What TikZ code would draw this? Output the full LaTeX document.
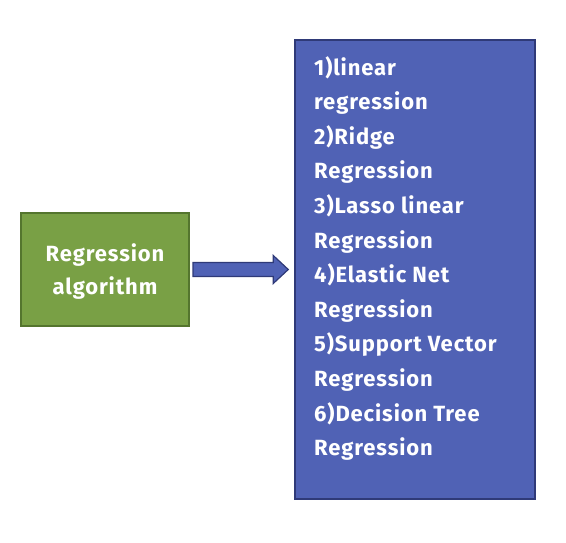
\documentclass[tikz,border=0pt]{standalone}
\usepackage{fontspec}
\setmainfont{Fira Sans}[LetterSpace=4]
\usetikzlibrary{calc}

\definecolor{algfill}{RGB}{121,160,69}
\definecolor{algedge}{RGB}{84,117,46}
\definecolor{lstfill}{RGB}{80,98,181}
\definecolor{lstedge}{RGB}{47,58,120}

\begin{document}
\begin{tikzpicture}[x=1pt,y=1pt,
    algbox/.style={draw=algedge,fill=algfill,line width=2pt,minimum width=168pt,minimum height=113pt,inner sep=0pt},
    lstbox/.style={draw=lstedge,fill=lstfill,line width=1.5pt,minimum width=240pt,minimum height=459pt,inner sep=0pt},
    boxtext/.style={text=white,font=\bfseries\fontsize{22}{33}\selectfont,inner sep=0pt},
    flowarrow/.style={draw=lstedge,fill=lstfill,line width=1.2pt,line join=miter}]
      \useasboundingbox (0,0) rectangle (566,542);

      \node (alg) [algbox] at (105,272.5) {};
      \node (lst) [lstbox] at (415,272.5) {};

      \node (algtext) [boxtext,align=center] at ($(alg.center)+(0,-2)$) {Regression\\algorithm};
      \node (lsttext) [boxtext,align=left,anchor=north west,font=\bfseries\fontsize{22}{34.6}\selectfont] at (314,486)
        {1)linear\\regression\\2)Ridge\\Regression\\3)Lasso linear\\Regression\\4)Elastic Net\\Regression\\5)Support Vector\\Regression\\6)Decision Tree\\Regression};

      \draw[flowarrow] ($(alg.east)+(3,7)$) -- ($(lst.west)+(-21,7)$) -- ($(lst.west)+(-21,14)$)
        -- ($(lst.west)+(-6,0)$) -- ($(lst.west)+(-21,-14)$) -- ($(lst.west)+(-21,-7)$)
        -- ($(alg.east)+(3,-7)$) -- cycle;
    \end{tikzpicture}
\end{document}
